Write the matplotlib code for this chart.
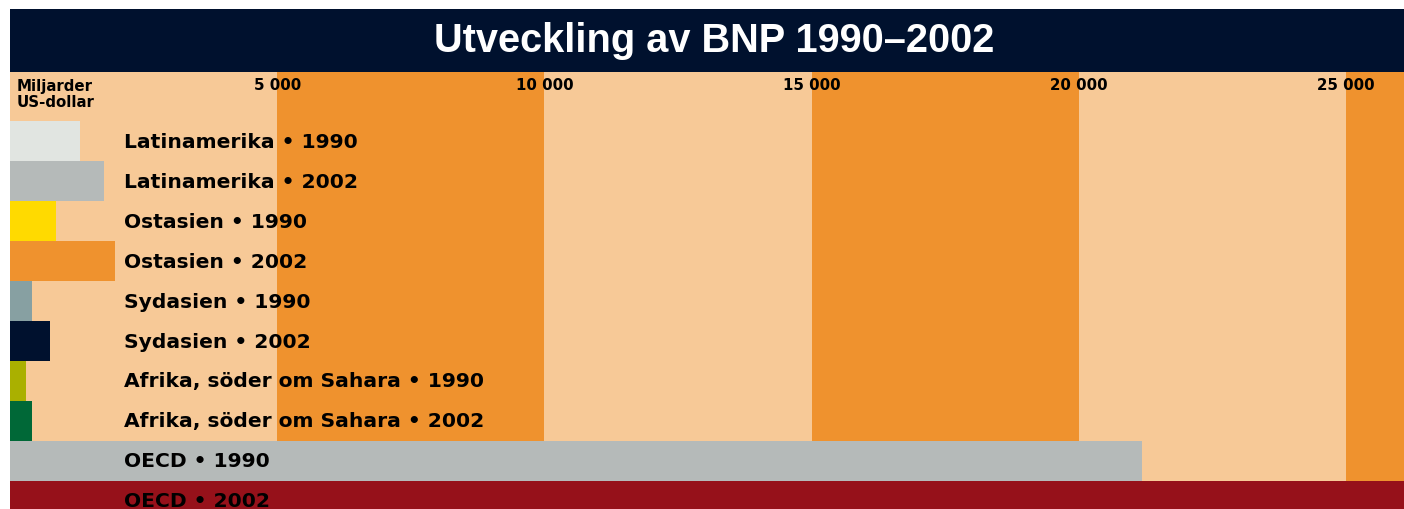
import matplotlib
matplotlib.use("Agg")
import matplotlib.pyplot as plt
import matplotlib.transforms as mtransforms

# ---- data ----
categories = [
    "Latinamerika • 1990", "Latinamerika • 2002",
    "Ostasien • 1990", "Ostasien • 2002",
    "Sydasien • 1990", "Sydasien • 2002",
    "Afrika, söder om Sahara • 1990", "Afrika, söder om Sahara • 2002",
    "OECD • 1990", "OECD • 2002",
]
values = [1310, 1760, 860, 1965, 410, 750, 300, 410, 21180, 27000]
bar_colors = ["#E1E5E1", "#B5BAB9", "#FFDA00", "#EF922E", "#87A0A2",
              "#00112E", "#AAB000", "#006837", "#B5BAB9", "#96111A"]
tick_values = [5000, 10000, 15000, 20000, 25000]
tick_labels = ["5 000", "10 000", "15 000", "20 000", "25 000"]
title = "Utveckling av BNP 1990–2002"
unit_label = "Miljarder\nUS-dollar"

# ---- style ----
LABEL_FONT = ["DejaVu Sans"]
TITLE_FONT = ["Liberation Sans", "DejaVu Sans"]
plt.rcParams["font.family"] = LABEL_FONT

W, H, DPI = 1404, 510, 100
LIGHT = "#F7C997"
ORANGE = "#EF922E"
NAVY = "#00112E"

fig = plt.figure(figsize=(W / DPI, H / DPI), dpi=DPI)
fig.patch.set_facecolor("white")
renderer = fig.canvas.get_renderer()


def fit_width(txt, target_px):
    """Scale the font size of a text so its rendered width matches target_px."""
    for _ in range(3):
        w = txt.get_window_extent(renderer=renderer).width
        txt.set_fontsize(txt.get_fontsize() * target_px / w)
    return txt.get_fontsize()


# banner
ban = fig.add_axes([10 / W, (H - 73) / H, (W - 10) / W, 63 / H])
ban.set_facecolor(NAVY)
ban.set_xticks([]); ban.set_yticks([])
for s in ban.spines.values():
    s.set_visible(False)
t = ban.text(0.505, 0.5, title, color="white", fontsize=26, fontweight="bold",
             family=TITLE_FONT, ha="center", va="center", transform=ban.transAxes)
fit_width(t, 562)

# main axes
ax = fig.add_axes([10 / W, 0, (W - 10) / W, (H - 73) / H])
ax.set_facecolor(LIGHT)
for s in ax.spines.values():
    s.set_visible(False)
ax.set_xticks([]); ax.set_yticks([])

xmax = 26085
ax.set_xlim(0, xmax)
n = len(categories)
top = -49 / 40
bottom = top + 437 / 40
ax.set_ylim(bottom, top)

# alternating background bands
edges = [0] + tick_values + [xmax]
for i in range(len(edges) - 1):
    if i % 2 == 1:
        ax.axvspan(edges[i], edges[i + 1], color=ORANGE, lw=0, zorder=0)

ypos = list(range(n))
ax.barh(ypos, values, height=1.0, align="edge", color=bar_colors, lw=0, zorder=2)

trans = mtransforms.blended_transform_factory(ax.transAxes, ax.transData)
texts = []
for y, lab in zip(ypos, categories):
    texts.append(ax.text(114 / (W - 10), y + 0.5, lab, transform=trans, fontsize=14,
                         fontweight="bold", ha="left", va="center", color="black",
                         zorder=3))
fs = fit_width(texts[0], 235)
for tx in texts:
    tx.set_fontsize(fs)

ttrans = mtransforms.blended_transform_factory(ax.transData, ax.transAxes)
tt = []
for tv, tl in zip(tick_values, tick_labels):
    tt.append(ax.text(tv, 1 - 13 / 437, tl, transform=ttrans, fontsize=11,
                      fontweight="bold", ha="center", va="center", color="black",
                      zorder=3))
fs2 = fit_width(tt[1], 58)
for tx in tt:
    tx.set_fontsize(fs2)

u = ax.text(7 / (W - 10), 1 - 6 / 437, unit_label, transform=ax.transAxes,
            fontsize=10, fontweight="bold", ha="left", va="top",
            linespacing=1.05, color="black", zorder=3)
fit_width(u, 78)

fig.savefig("out.png", dpi=DPI)
